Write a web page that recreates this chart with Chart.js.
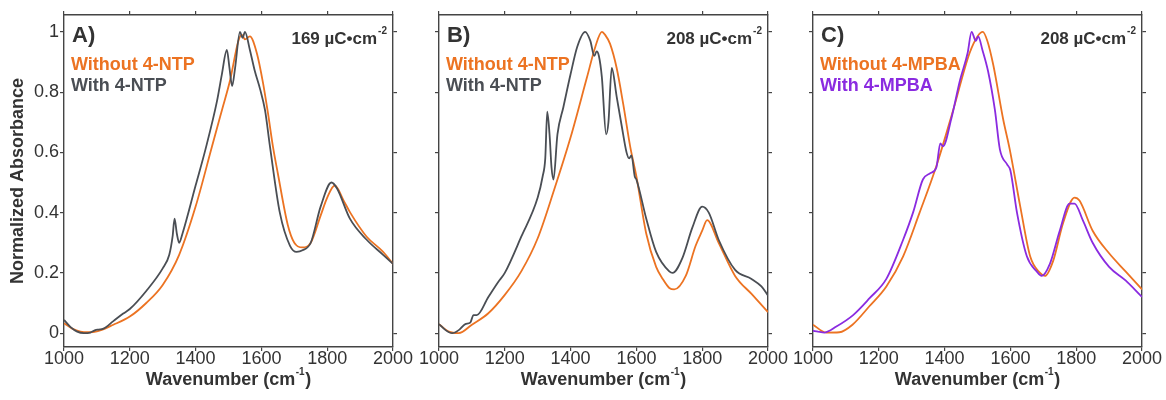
<!DOCTYPE html>
<html>
<head>
<meta charset="utf-8">
<script src="https://cdn.jsdelivr.net/npm/chart.js@4.4.1/dist/chart.umd.min.js"></script>
<style>
  body { margin: 0; background: #fff; width: 1166px; height: 400px; position: relative; overflow: hidden; }
  canvas { position: absolute; top: 0; }
</style>
</head>
<body>
<canvas id="panelA" width="420" height="400" style="left:0px"></canvas>
<canvas id="panelB" width="380" height="400" style="left:415px"></canvas>
<canvas id="panelC" width="376" height="400" style="left:790px"></canvas>
<script>
// tick values
const xTicks = [1000, 1200, 1400, 1600, 1800, 2000];
const yTicks = [0, 0.2, 0.4, 0.6, 0.8, 1];

// panel A: with / without 4-NTP, 169 uC/cm2
const aWithWn = [1000,1020,1040,1060,1080,1095,1105,1120,1150,1180,1200,1250,1300,1320,1330,1336,1343,1350,1360,1400,1430,1465,1480,1495,1503,1511,1520,1535,1543,1550,1565,1580,1596,1611,1626,1656,1687,1707,1725,1750,1780,1813,1830,1869,1920,1970,2000];
const aWithAbs = [0.044,0.02,0.005,0,0.002,0.01,0.012,0.015,0.04,0.065,0.08,0.14,0.215,0.26,0.32,0.38,0.33,0.30,0.33,0.49,0.61,0.77,0.86,0.94,0.88,0.82,0.88,1.0,0.98,1.0,0.94,0.87,0.81,0.74,0.62,0.40,0.29,0.27,0.275,0.30,0.42,0.50,0.48,0.38,0.31,0.26,0.23];
const aWithoutWn = [1000,1025,1050,1075,1100,1150,1200,1250,1300,1350,1400,1450,1480,1505,1530,1541,1550,1565,1586,1605,1620,1635,1650,1680,1700,1725,1750,1780,1800,1823,1850,1870,1920,1970,2000];
const aWithoutAbs = [0.033,0.015,0.005,0.003,0.006,0.028,0.055,0.1,0.16,0.26,0.42,0.62,0.74,0.84,0.97,0.99,0.975,0.985,0.93,0.83,0.73,0.62,0.53,0.36,0.30,0.285,0.30,0.39,0.45,0.49,0.44,0.40,0.32,0.27,0.23];

// panel B: with / without 4-NTP, 208 uC/cm2
const bWithWn = [1000,1020,1040,1060,1080,1095,1105,1115,1150,1180,1200,1250,1300,1315,1323,1329,1336,1342,1348,1360,1378,1400,1420,1444,1460,1472,1479,1486,1495,1508,1515,1525,1540,1555,1570,1578,1585,1595,1600,1630,1660,1700,1710,1740,1770,1800,1820,1850,1900,1950,1980,2000];
const bWithAbs = [0.03,0.01,0,0.01,0.03,0.035,0.06,0.06,0.12,0.17,0.20,0.32,0.45,0.52,0.58,0.735,0.66,0.55,0.51,0.66,0.75,0.86,0.95,1.0,0.97,0.92,0.935,0.92,0.85,0.66,0.70,0.88,0.785,0.69,0.60,0.58,0.59,0.52,0.51,0.38,0.27,0.205,0.20,0.25,0.35,0.42,0.40,0.31,0.21,0.18,0.155,0.125];
const bWithoutWn = [1000,1030,1060,1100,1150,1200,1250,1300,1350,1400,1450,1475,1495,1505,1520,1540,1560,1581,1600,1630,1660,1680,1700,1715,1750,1780,1800,1815,1850,1900,1950,2000];
const bWithoutAbs = [0.03,0.005,0,0.028,0.066,0.127,0.205,0.315,0.476,0.65,0.85,0.95,1.0,0.99,0.96,0.88,0.76,0.62,0.52,0.33,0.22,0.18,0.15,0.145,0.19,0.29,0.34,0.375,0.30,0.19,0.13,0.07];

// panel C: with / without 4-MPBA, 208 uC/cm2
const cWithWn = [1000,1015,1035,1071,1122,1172,1223,1274,1304,1334,1355,1375,1387,1395,1420,1447,1470,1482,1495,1502,1515,1532,1553,1568,1590,1600,1620,1650,1680,1695,1720,1750,1780,1795,1820,1850,1900,1950,2000];
const cWithAbs = [0.008,0.005,0.002,0.022,0.06,0.116,0.18,0.31,0.40,0.51,0.53,0.55,0.63,0.62,0.71,0.84,0.93,1.0,0.97,0.985,0.94,0.87,0.74,0.61,0.56,0.54,0.40,0.255,0.205,0.19,0.23,0.34,0.43,0.43,0.375,0.30,0.22,0.175,0.12];
const cWithoutWn = [1000,1040,1080,1120,1172,1223,1274,1324,1375,1426,1476,1500,1516,1530,1548,1578,1598,1630,1660,1690,1705,1730,1760,1795,1810,1850,1900,1950,2000];
const cWithoutAbs = [0.028,0.002,0.003,0.028,0.09,0.155,0.255,0.40,0.555,0.74,0.93,0.985,1.0,0.97,0.89,0.71,0.61,0.42,0.255,0.20,0.19,0.24,0.365,0.45,0.44,0.34,0.265,0.205,0.145];

const ORANGE = "#ec7322";
const GRAY = "#4a4e54";
const PURPLE = "#8a2be0";
const AXIS = "#444";
const TEXT = "#333";
const FONT = "'Liberation Sans', Arial, sans-serif";

function pts(xs, ys) {
  return xs.map((x, i) => ({ x: x, y: ys[i] }));
}

// text drawn by hand: panel letter, charge, legend, axis titles with superscripts
const labelsPlugin = {
  id: "labels",
  afterDraw(chart) {
    const c = chart.ctx;
    const a = chart.chartArea;
    const p = chart.options.plugins.labels;
    c.save();
    c.textBaseline = "middle";

    c.fillStyle = TEXT;
    c.textAlign = "left";
    c.font = "bold 22px " + FONT;
    c.fillText(p.letter, a.left + 8, 36);

    // charge density, right aligned
    c.font = "bold 10px " + FONT;
    const supW = c.measureText("-2").width;
    c.font = "bold 17px " + FONT;
    const mainW = c.measureText(p.charge).width;
    const x0 = a.right - 7 - supW - mainW;
    c.fillText(p.charge, x0, 39);
    c.font = "bold 10px " + FONT;
    c.fillText("-2", x0 + mainW + 1, 31);

    c.font = "bold 18px " + FONT;
    c.fillStyle = p.legend[0].color;
    c.fillText(p.legend[0].text, a.left + 7, 65);
    c.fillStyle = p.legend[1].color;
    c.fillText(p.legend[1].text, a.left + 7, 86);

    // x title
    c.fillStyle = TEXT;
    const t1 = "Wavenumber (cm";
    c.font = "bold 18px " + FONT;
    const w1 = c.measureText(t1).width;
    const w3 = c.measureText(")").width;
    c.font = "bold 10px " + FONT;
    const w2 = c.measureText("-1").width;
    const xs = (a.left + a.right) / 2 - (w1 + w2 + w3 + 1) / 2;
    c.font = "bold 18px " + FONT;
    c.fillText(t1, xs, 380);
    c.fillText(")", xs + w1 + w2 + 1, 380);
    c.font = "bold 10px " + FONT;
    c.fillText("-1", xs + w1 + 0.5, 372);

    if (p.yTitle) {
      c.translate(18, (a.top + a.bottom) / 2);
      c.rotate(-Math.PI / 2);
      c.textAlign = "center";
      c.font = "bold 18px " + FONT;
      c.fillText(p.yTitle, 0, 0);
    }
    c.restore();
  }
};

function axisBase(extra) {
  return Object.assign({
    type: "linear",
    grid: { drawOnChartArea: false, color: AXIS, lineWidth: 1.2, tickLength: 4 },
    border: { color: AXIS, width: 1.4 }
  }, extra);
}

function makePanel(id, cfg) {
  const fixX = (s) => { s.ticks = xTicks.map(t => ({ value: t })); };
  const fixY = (s) => { s.ticks = yTicks.map(t => ({ value: t })); };
  const hide = () => "";
  const tickFont = { family: FONT, size: 18 };
  new Chart(document.getElementById(id), {
    type: "line",
    data: {
      datasets: [
        { data: pts(cfg.withWn, cfg.withAbs), borderColor: cfg.withColor },
        { data: pts(cfg.withoutWn, cfg.withoutAbs), borderColor: ORANGE }
      ].map(d => Object.assign(d, { borderWidth: 1.8, pointRadius: 0, fill: false, cubicInterpolationMode: "monotone" }))
    },
    options: {
      responsive: false,
      animation: false,
      layout: { padding: 0 },
      plugins: {
        legend: { display: false },
        tooltip: { enabled: false },
        labels: cfg.labels
      },
      scales: {
        x: axisBase({ position: "bottom", min: 1000, max: 2000, afterBuildTicks: fixX,
          ticks: { color: TEXT, font: tickFont, padding: -3, maxRotation: 0, autoSkip: false, callback: v => String(v) },
          afterFit: s => { s.height = 53; } }),
        x2: axisBase({ position: "top", min: 1000, max: 2000, afterBuildTicks: fixX,
          ticks: { callback: hide }, afterFit: s => { s.height = 15; } }),
        y: axisBase({ position: "left", min: -0.046, max: 1.056, afterBuildTicks: fixY,
          ticks: { color: TEXT, font: tickFont, padding: 1,
            callback: cfg.yLabels ? (v => String(+v.toFixed(1))) : hide },
          afterFit: s => { s.width = cfg.leftW; } }),
        y2: axisBase({ position: "right", min: -0.046, max: 1.056, afterBuildTicks: fixY,
          ticks: { callback: hide }, afterFit: s => { s.width = cfg.rightW; } })
      }
    },
    plugins: [labelsPlugin]
  });
}

makePanel("panelA", {
  withWn: aWithWn, withAbs: aWithAbs, withoutWn: aWithoutWn, withoutAbs: aWithoutAbs,
  withColor: GRAY, leftW: 64, rightW: 27, yLabels: true,
  labels: { letter: "A)", charge: "169 µC•cm", yTitle: "Normalized Absorbance",
    legend: [{ text: "Without 4-NTP", color: ORANGE }, { text: "With 4-NTP", color: GRAY }] }
});
makePanel("panelB", {
  withWn: bWithWn, withAbs: bWithAbs, withoutWn: bWithoutWn, withoutAbs: bWithoutAbs,
  withColor: GRAY, leftW: 24, rightW: 27, yLabels: false,
  labels: { letter: "B)", charge: "208 µC•cm",
    legend: [{ text: "Without 4-NTP", color: ORANGE }, { text: "With 4-NTP", color: GRAY }] }
});
makePanel("panelC", {
  withWn: cWithWn, withAbs: cWithAbs, withoutWn: cWithoutWn, withoutAbs: cWithoutAbs,
  withColor: PURPLE, leftW: 23, rightW: 24, yLabels: false,
  labels: { letter: "C)", charge: "208 µC•cm",
    legend: [{ text: "Without 4-MPBA", color: ORANGE }, { text: "With 4-MPBA", color: PURPLE }] }
});
</script>
</body>
</html>
